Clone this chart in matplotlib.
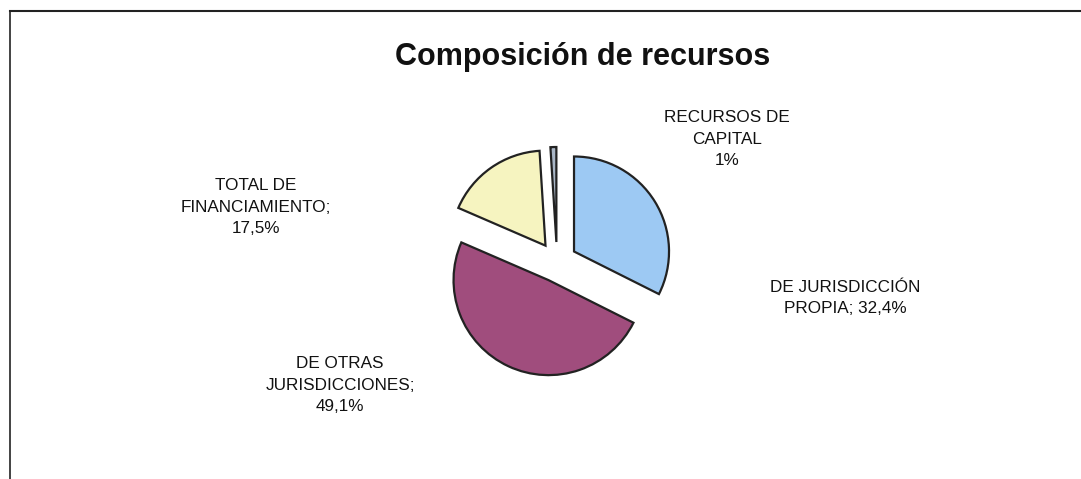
import matplotlib
matplotlib.use("Agg")
import matplotlib.pyplot as plt
from matplotlib.lines import Line2D

plt.rcParams['font.family'] = ['Liberation Sans', 'DejaVu Sans']

title = "Composición de recursos"
categories = ["DE JURISDICCIÓN\nPROPIA", "DE OTRAS\nJURISDICCIONES", "TOTAL DE\nFINANCIAMIENTO", "RECURSOS DE\nCAPITAL"]
values = [32.4, 49.1, 17.5, 1.0]
value_labels = ["32,4%", "49,1%", "17,5%", "1%"]
separators = ["; ", ";\n", ";\n", "\n"]
colors = ["#9dc9f3", "#a04d7d", "#f6f4c0", "#a9b6c6"]

W, H = 1081, 479
fig = plt.figure(figsize=(W / 100, H / 100), dpi=100)
ax = fig.add_axes([0, 0, 1, 1])

cx, cy_img, r = 557, 262, 95
ax.pie(values, colors=colors, startangle=90, counterclock=False,
       center=(cx, H - cy_img), radius=r, explode=[20] * len(values),
       wedgeprops=dict(edgecolor="#222222", linewidth=1.6), frame=True)
ax.set_xlim(0, W)
ax.set_ylim(0, H)
ax.set_aspect('equal')
ax.axis('off')

# label centres in image pixel coordinates
label_pos = [(845, 298), (340, 385), (256, 207), (727, 139)]
for cat, sep, vl, (lx, ly) in zip(categories, separators, value_labels, label_pos):
    ax.text(lx, H - ly, cat + sep + vl, ha='center', va='center',
            fontsize=12.3, linespacing=1.55, color="#111111")

ax.text(583, H - 57, title, ha='center', va='center', fontsize=22,
        fontweight='bold', color="#111111")

# frame lines (top and left)
fig.add_artist(Line2D([10 / W, 1], [1 - 11 / H, 1 - 11 / H], transform=fig.transFigure,
                      color="#222222", linewidth=1.5))
fig.add_artist(Line2D([10 / W, 10 / W], [0, 1 - 11 / H], transform=fig.transFigure,
                      color="#222222", linewidth=1.2))

fig.savefig("out.png", dpi=100, facecolor="white")
